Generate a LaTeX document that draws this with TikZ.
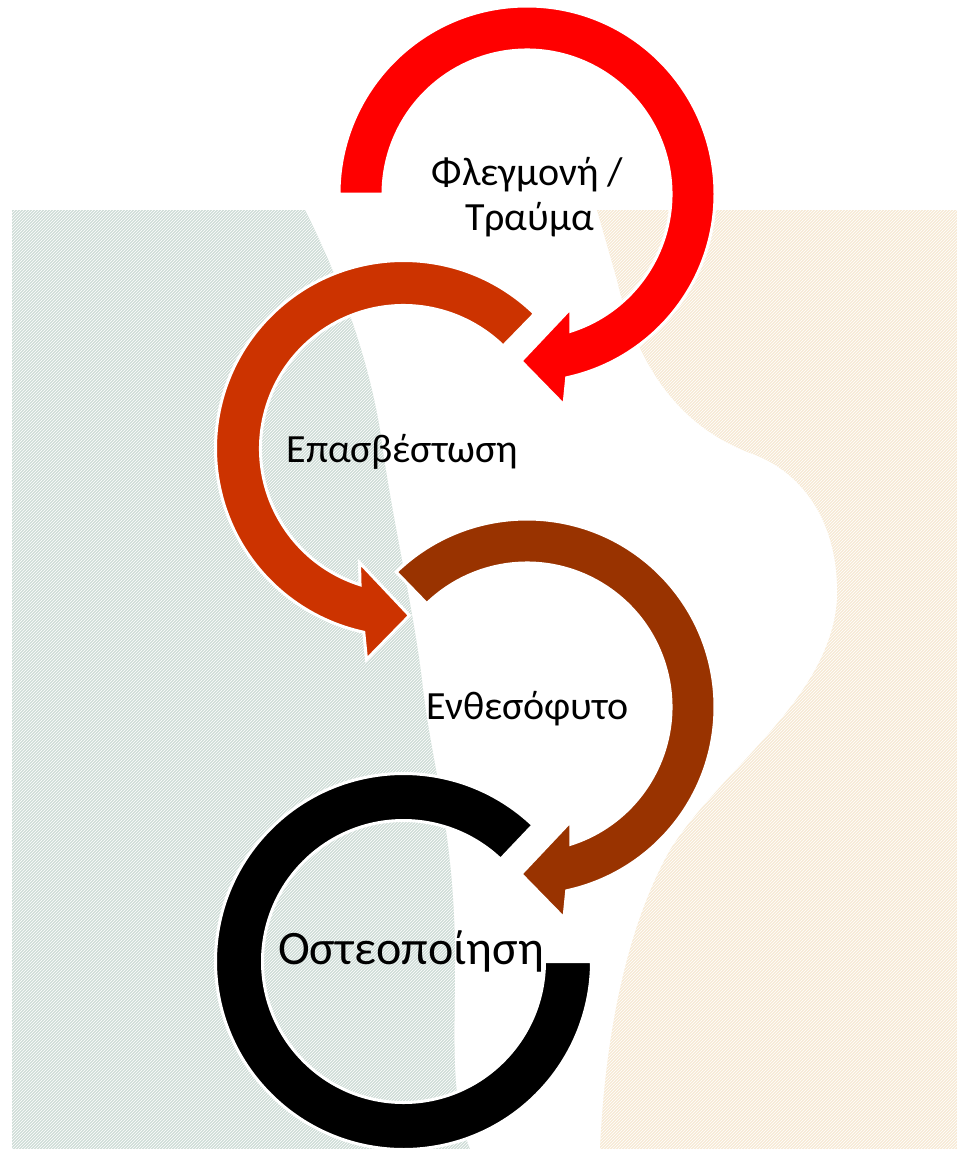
\documentclass[tikz,border=0pt]{standalone}
\usepackage{fontspec}
\setmainfont{Carlito}
\usetikzlibrary{calc,patterns}
\definecolor{cRed}{HTML}{FF0000}
\definecolor{cOrange}{HTML}{CC3300}
\definecolor{cBrown}{HTML}{993300}
\definecolor{bgGreen}{HTML}{CFDDD7}
\definecolor{bgBeige}{HTML}{F7EAD5}
\begin{document}
\begin{tikzpicture}[x=1pt,y=-1pt,
  ring/.style={draw=white, line width=3pt, line join=miter},
  lbl/.style={font=\fontsize{40}{45}\selectfont, text=black, inner sep=0pt, anchor=base},
  biglbl/.style={font=\fontsize{48}{52}\selectfont, text=black, inner sep=0pt, anchor=base}]
\useasboundingbox (0,0) rectangle (957,1149);
% background photo regions
\def\greenreg{(12,210) -- (305,210) .. controls (330,260) and (365,340) .. (380,430)
  .. controls (392,520) and (412,600) .. (422,680)
  .. controls (430,760) and (455,830) .. (455,960)
  .. controls (455,1040) and (450,1100) .. (470,1149) -- (12,1149) -- cycle}
\def\beigereg{(597,210) -- (957,210) -- (957,1149) -- (600,1149)
  .. controls (605,1040) and (625,930) .. (670,850)
  .. controls (720,770) and (830,700) .. (837,600)
  .. controls (840,520) and (800,470) .. (750,453)
  .. controls (690,430) and (640,380) .. (617,280) -- cycle}
\fill[bgGreen] \greenreg;
\fill[pattern=north east lines, pattern color=white] \greenreg;
\fill[bgBeige] \beigereg;
\fill[pattern=north east lines, pattern color=white] \beigereg;
% centres
\coordinate (cR) at (527,194);
\coordinate (cO) at (403.5,448.5);
\coordinate (cB) at (527,707);
\coordinate (cK) at (403.5,961.5);
% red circular arrow
\path[ring, fill=cRed] ($(cR)+(180:188)$) arc[start angle=180, end angle=437.8, radius=188]
  -- ($(cR)+(37,211)$) -- ($(cR)+(-6,167)$) -- ($(cR)+(44,114)$)
  -- ($(cR)+(432.3:144)$) arc[start angle=432.3, end angle=180, radius=144] -- cycle;
% orange circular arrow (mirrored)
\path[ring, fill=cOrange] ($(cO)+(314.2:188)$) arc[start angle=314.2, end angle=102.2, radius=188]
  -- ($(cO)+(-37,211)$) -- ($(cO)+(6,167)$) -- ($(cO)+(-44,114)$)
  -- ($(cO)+(107.7:143)$) arc[start angle=107.7, end angle=314.2, radius=143] -- cycle;
% brown circular arrow
\path[ring, fill=cBrown] ($(cB)+(225.9:188)$) arc[start angle=225.9, end angle=437.8, radius=188]
  -- ($(cB)+(37,211)$) -- ($(cB)+(-6,167)$) -- ($(cB)+(44,114)$)
  -- ($(cB)+(432.3:144)$) arc[start angle=432.3, end angle=225.9, radius=144] -- cycle;
% black open ring
\path[ring, fill=black] ($(cK)+(313.5:188)$) arc[start angle=313.5, end angle=0, radius=188]
  -- ($(cK)+(0:141)$) arc[start angle=0, end angle=313.5, radius=141] -- cycle;
% labels
\node[lbl] (t1a) at (527.5,185) {Φλεγμονή /};
\node[lbl] (t1b) at (529.5,230) {Τραύμα};
\node[lbl] (t2) at (402.5,462) {Επασβέστωση};
\node[lbl] (t3) at (527.5,719) {Ενθεσόφυτο};
\node[biglbl] (t4) at (411,964) {Οστεοποίηση};
\end{tikzpicture}
\end{document}
